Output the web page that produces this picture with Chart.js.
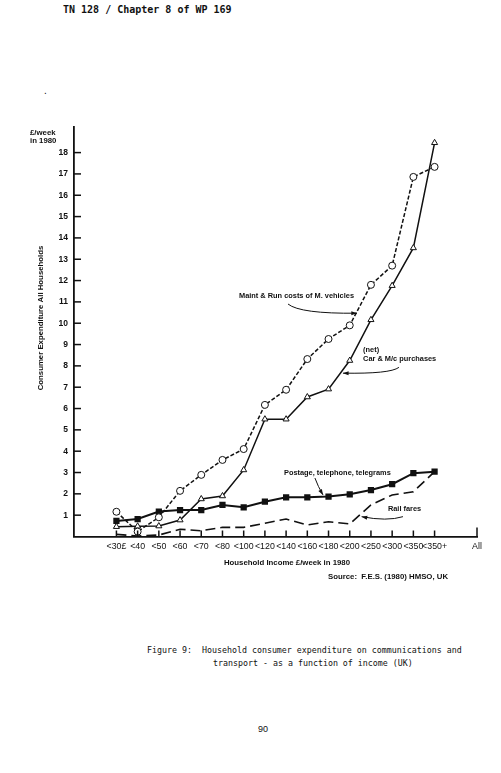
<!DOCTYPE html>
<html>
<head>
<meta charset="utf-8">
<script src="https://cdn.jsdelivr.net/npm/chart.js@4.4.0/dist/chart.umd.min.js"></script>
<style>
  body { margin: 0; background: #fff; width: 501px; height: 773px; position: relative; overflow: hidden; }
  #wrap { position: absolute; left: 0; top: 0; width: 501px; height: 773px; }
  .txt { position: absolute; white-space: pre; color: #111; }
  #head { left: 63px; top: 4px; font: bold 10px "DejaVu Sans Mono", monospace; }
  .cap { font: 8.3px "DejaVu Sans Mono", monospace; }
  #page { left: 258px; top: 724px; font: 9px "Liberation Sans", Arial, sans-serif; }
</style>
</head>
<body>
<div class="txt" id="head">TN 128 / Chapter 8 of WP 169</div>
<div class="txt" style="left:44px;top:85px;font:10px sans-serif;">.</div>
<div class="txt cap" style="left:147px;top:645px;">Figure 9:  Household consumer expenditure on communications and</div>
<div class="txt cap" style="left:213px;top:658px;">transport - as a function of income (UK)</div>
<div class="txt" id="page">90</div>
<div id="wrap"><canvas id="mycanvas" width="501" height="773"></canvas></div>
<script>
// income bands (two empty slots before the first band, one before "All")
var incomeBands = ['', '', '<30£', '<40', '<50', '<60', '<70', '<80', '<100', '<120', '<140',
                   '<160', '<180', '<200', '<250', '<300', '<350', '<350+', '', 'All'];

// £/week, one value per band from <30£ to <350+
var maintRun = [1.16, 0.23, 0.9, 2.14, 2.89, 3.59, 4.1, 6.17, 6.88, 8.32, 9.26, 9.9, 11.8, 12.7, 16.86, 17.33];
var carPurchases = [0.46, 0.48, 0.49, 0.77, 1.76, 1.9, 3.12, 5.5, 5.5, 6.54, 6.91, 8.25, 10.16, 11.76, 13.53, 18.46];
var postage = [0.73, 0.82, 1.17, 1.24, 1.24, 1.48, 1.37, 1.63, 1.84, 1.84, 1.87, 1.98, 2.18, 2.45, 2.97, 3.04];
var railFares = [0.1, 0.02, 0.07, 0.34, 0.27, 0.43, 0.43, 0.62, 0.82, 0.54, 0.69, 0.59, 1.48, 1.95, 2.1, 3.04];

function onAxis(values) {
    return [null, null].concat(values);
}

var ink = '#111';
Chart.defaults.font.family = '"Liberation Sans", Arial, sans-serif';
Chart.defaults.color = ink;

function arrow(ctx, x0, y0, cx, cy, x1, y1) {
    ctx.beginPath();
    ctx.moveTo(x0, y0);
    ctx.quadraticCurveTo(cx, cy, x1, y1);
    ctx.stroke();
    var ang = Math.atan2(y1 - cy, x1 - cx);
    ctx.beginPath();
    ctx.moveTo(x1, y1);
    ctx.lineTo(x1 - 6 * Math.cos(ang - 0.35), y1 - 6 * Math.sin(ang - 0.35));
    ctx.lineTo(x1 - 6 * Math.cos(ang + 0.35), y1 - 6 * Math.sin(ang + 0.35));
    ctx.closePath();
    ctx.fill();
}

var extras = {
    id: 'extras',
    afterDraw: function (chart) {
        var ctx = chart.ctx, xs = chart.scales.x, ys = chart.scales.y, a = chart.chartArea;
        function P(i, v) { return [xs.getPixelForValue(i), ys.getPixelForValue(v)]; }
        ctx.save();
        ctx.strokeStyle = ink;
        ctx.fillStyle = ink;
        ctx.lineWidth = 1.5;
        // inner tick marks
        ys.ticks.forEach(function (t) {
            if (Number.isInteger(t.value) && t.value >= 1 && t.value <= 18) {
                var py = ys.getPixelForValue(t.value);
                ctx.beginPath(); ctx.moveTo(a.left, py); ctx.lineTo(a.left + 7, py); ctx.stroke();
            }
        });
        incomeBands.forEach(function (l, i) {
            if (l) {
                var px = xs.getPixelForValue(i);
                ctx.beginPath(); ctx.moveTo(px, a.bottom); ctx.lineTo(px, a.bottom - (l === 'All' ? 9 : 6)); ctx.stroke();
            }
        });

        // axis captions
        ctx.font = 'bold 7.8px "Liberation Sans", Arial, sans-serif';
        ctx.textBaseline = 'middle';
        ctx.textAlign = 'left';
        ctx.fillText('£/week', 30, 133);
        ctx.fillText('in 1980', 30, 141);
        ctx.save();
        ctx.translate(41, 318);
        ctx.rotate(-Math.PI / 2);
        ctx.textAlign = 'center';
        ctx.fillText('Consumer Expenditure All Households', 0, 0);
        ctx.restore();
        ctx.textAlign = 'center';
        ctx.fillText('Household Income £/week in 1980', 287, 563);
        ctx.textAlign = 'left';
        ctx.fillText('Source:  F.E.S. (1980) HMSO, UK', 328, 577);

        // series annotations
        ctx.font = 'bold 7.4px "Liberation Sans", Arial, sans-serif';
        var p = P(7.78, 11.28);
        ctx.fillText('Maint & Run costs of M. vehicles', p[0], p[1]);
        p = P(13.63, 8.74);
        ctx.fillText('(net)', p[0], p[1]);
        p = P(13.63, 8.32);
        ctx.fillText('Car & M/c purchases', p[0], p[1]);
        p = P(9.9, 2.98);
        ctx.fillText('Postage, telephone, telegrams', p[0], p[1]);
        p = P(14.8, 1.29);
        ctx.fillText('Rail fares', p[0], p[1]);

        ctx.lineWidth = 1;
        var s, c, e;
        s = P(10.09, 10.9); c = P(10.66, 10.44); e = P(13.34, 10.47);
        arrow(ctx, s[0], s[1], c[0], c[1], e[0], e[1]);
        s = P(15.32, 7.93); c = P(14.9, 7.62); e = P(12.68, 7.66);
        arrow(ctx, s[0], s[1], c[0], c[1], e[0], e[1]);
        s = P(11.36, 2.74); c = P(11.5, 2.35); e = P(11.74, 1.95);
        arrow(ctx, s[0], s[1], c[0], c[1], e[0], e[1]);
        s = P(15.51, 0.93); c = P(14.76, 0.7); e = P(13.56, 0.93);
        arrow(ctx, s[0], s[1], c[0], c[1], e[0], e[1]);
        ctx.restore();
    }
};

var chartdata = {
    labels: incomeBands,
    datasets: [
        {
            label: 'Maint & Run costs of M. vehicles',
            data: onAxis(maintRun),
            borderColor: ink,
            borderWidth: 1.5,
            borderDash: [4, 2],
            pointStyle: 'circle',
            pointRadius: 3.5,
            pointBackgroundColor: '#fff',
            pointBorderColor: ink,
            pointBorderWidth: 1
        },
        {
            label: '(net) Car & M/c purchases',
            data: onAxis(carPurchases),
            borderColor: ink,
            borderWidth: 1.5,
            pointStyle: 'triangle',
            pointRadius: 3.5,
            pointBackgroundColor: '#fff',
            pointBorderColor: ink,
            pointBorderWidth: 1
        },
        {
            label: 'Postage, telephone, telegrams',
            data: onAxis(postage),
            borderColor: ink,
            borderWidth: 2,
            pointStyle: 'rect',
            pointRadius: 3,
            pointBackgroundColor: ink,
            pointBorderColor: ink
        },
        {
            label: 'Rail fares',
            data: onAxis(railFares),
            borderColor: ink,
            borderWidth: 1.6,
            borderDash: [10, 5],
            pointRadius: 0
        }
    ]
};

var ctx = document.getElementById('mycanvas');

var LineGraph = new Chart(ctx, {
    type: 'line',
    data: chartdata,
    plugins: [extras],
    options: {
        responsive: false,
        animation: false,
        layout: { padding: { left: 24, right: 24, top: 127, bottom: 200.5 } },
        plugins: { legend: { display: false }, tooltip: { enabled: false } },
        elements: { line: { tension: 0 } },
        scales: {
            x: {
                offset: false,
                grid: { display: false, drawTicks: false },
                border: { display: true, color: ink, width: 1.8 },
                ticks: {
                    autoSkip: false, maxRotation: 0, padding: 5,
                    font: { size: 8.8 }
                },
                afterFit: function (scale) { scale.height = 36; }
            },
            y: {
                min: 0,
                max: 19.2,
                grid: { display: false, drawTicks: false },
                border: { display: true, color: ink, width: 1.8 },
                ticks: {
                    stepSize: 1, padding: 6,
                    font: { size: 8.5, weight: 'bold' },
                    callback: function (v) { return (Number.isInteger(v) && v >= 1 && v <= 18) ? v : ''; }
                },
                afterFit: function (scale) { scale.width = 50; }
            }
        }
    }
});
</script>
</body>
</html>
